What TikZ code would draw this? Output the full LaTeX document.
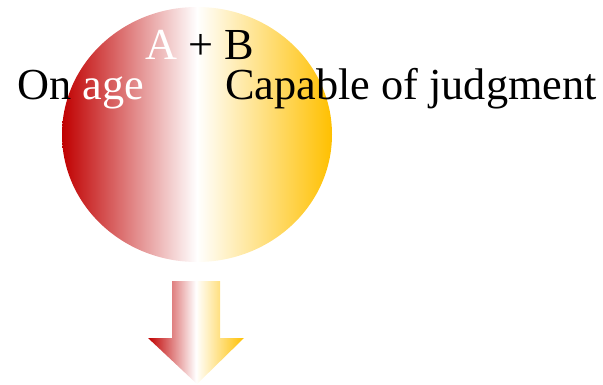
\documentclass[tikz,border=0pt]{standalone}
\usepackage{fontspec}
\setmainfont{Liberation Serif}
\definecolor{cred}{RGB}{192,0,0}
\definecolor{cgold}{RGB}{255,192,0}
\begin{document}
\begin{tikzpicture}[x=1pt,y=-1pt,
  grad/.style={left color=cred,right color=cgold,middle color=white},
  lbl/.style={anchor=base west,inner sep=0pt,font=\fontsize{44.3}{50}\selectfont}]
\useasboundingbox (0,0) rectangle (603,385);
\shade[grad] (197,134.5) ellipse [x radius=135,y radius=127.5];
\shade[grad] (172,281) -- (220,281) -- (220,338) -- (244,338) -- (197,384) -- (148,338) -- (172,338) -- cycle;
\node[lbl] (ab) at (145,60) {\textcolor{white}{A} + B};
\node[lbl] (on) at (17,100) {On \textcolor{white}{age}};
\node[lbl] (cap) at (225,100) {Capable of judgment};
\end{tikzpicture}
\end{document}
